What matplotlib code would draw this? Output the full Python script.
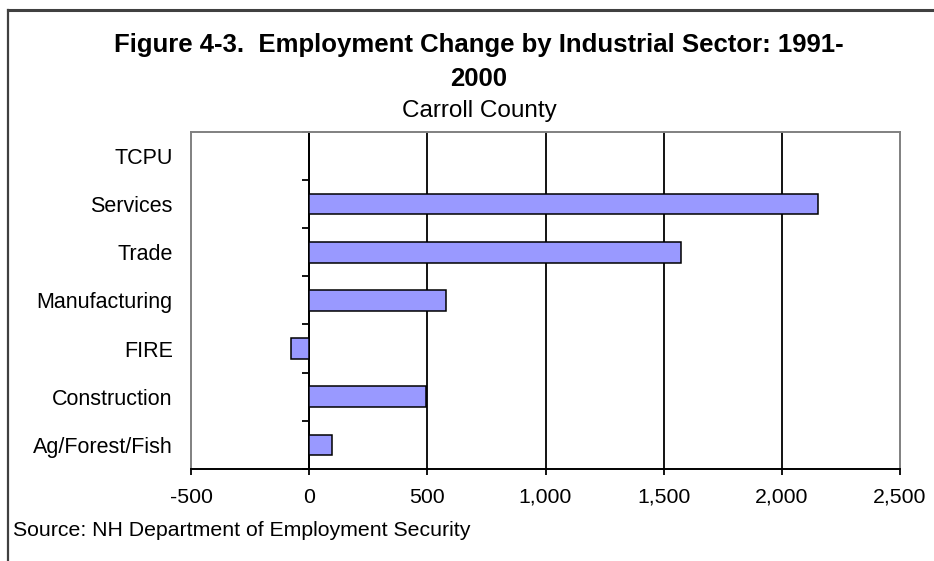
import matplotlib
matplotlib.use("Agg")
import matplotlib.pyplot as plt
from matplotlib.lines import Line2D
import numpy as np

plt.rcParams['font.family'] = ['Liberation Sans', 'DejaVu Sans']

categories = ["Ag/Forest/Fish", "Construction", "FIRE", "Manufacturing",
              "Trade", "Services", "TCPU"]
values = [97, 496, -76, 580, 1572, 2152, 0]
xticks = [-500, 0, 500, 1000, 1500, 2000, 2500]
title_line1 = "Figure 4-3.  Employment Change by Industrial Sector: 1991-"
title_line2 = "2000"
subtitle = "Carroll County"
source = "Source: NH Department of Employment Security"

W, H = 934, 561
fig = plt.figure(figsize=(W / 100, H / 100), dpi=100)
fig.patch.set_facecolor("white")

left, right, top, bottom = 191, 900, 131.7, 469
ax = fig.add_axes([left / W, 1 - bottom / H, (right - left) / W, (bottom - top) / H])

y = np.arange(len(categories))
ax.barh(y, values, height=0.43, color="#9999FF", edgecolor="black",
        linewidth=1.1, zorder=3)

xmin, xmax = xticks[0], xticks[-1]
ax.set_xlim(xmin, xmax)
ax.set_ylim(-0.5, len(categories) - 0.5)

ax.set_xticks(xticks)
ax.set_xticklabels([f"{v:,}" for v in xticks])
ax.set_yticks(y)
ax.set_yticklabels(categories)

ax.tick_params(axis="y", length=0, pad=13.2, labelsize=15.5, colors="black")
ax.tick_params(axis="x", length=4.5, width=1.3, direction="out", pad=9,
               labelsize=15.3, colors="black")

for s in ("left", "top", "right"):
    ax.spines[s].set_color("#808080")
    ax.spines[s].set_linewidth(1.4)
ax.spines["bottom"].set_color("black")
ax.spines["bottom"].set_linewidth(1.4)

ax.grid(axis="x", color="black", linewidth=1.3, zorder=1)
ax.set_axisbelow(True)
gl = ax.get_xgridlines()
gl[0].set_visible(False)
gl[-1].set_visible(False)

# category axis crossing at x = 0 with boundary ticks
pos = (0 - xmin) / (xmax - xmin)
sec = ax.secondary_yaxis(pos)
sec.set_yticks(np.arange(len(categories) + 1) - 0.5)
sec.set_yticklabels([])
sec.tick_params(axis="y", length=5, width=1.3, direction="out", color="black")
for s in sec.spines.values():
    s.set_color("black")
    s.set_linewidth(1.4)

# titles
cx = 479 / W
fig.text(cx, 1 - 52 / H, title_line1, ha="center", va="baseline",
         fontsize=18.5, fontweight="bold")
fig.text(cx, 1 - 86 / H, title_line2, ha="center", va="baseline",
         fontsize=18.5, fontweight="bold")
fig.text(cx, 1 - 117 / H, subtitle, ha="center", va="baseline", fontsize=17.5)
fig.text(13 / W, 1 - 536 / H, source, ha="left", va="baseline", fontsize=15.3)

# frame lines (top and left)
fig.add_artist(Line2D([8 / W, 1], [1 - 10 / H, 1 - 10 / H],
                      transform=fig.transFigure, color="#404040", linewidth=2.2))
fig.add_artist(Line2D([8 / W, 8 / W], [1 - 10 / H, 0],
                      transform=fig.transFigure, color="#404040", linewidth=1.6))

fig.savefig("out.png", dpi=100, facecolor="white")
